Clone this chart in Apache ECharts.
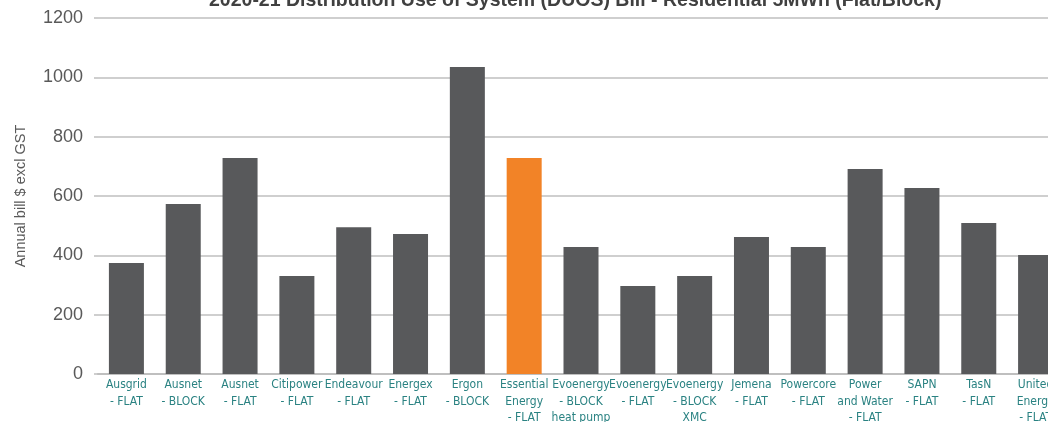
<!DOCTYPE html>
<html>
<head>
<meta charset="utf-8">
<script src="https://cdn.jsdelivr.net/npm/echarts@6/dist/echarts.min.js"></script>
<style>
html,body{margin:0;padding:0;background:#fff;overflow:hidden;width:1048px;height:422px;}
#chart{width:1064px;height:422px;}
</style>
</head>
<body>
<div id="chart"></div>
<script>
var titleText = '2020-21 Distribution Use of System (DUOS) Bill - Residential 5MWh (Flat/Block)';
var yAxisName = 'Annual bill $ excl GST';
var categories = [
  'Ausgrid\n- FLAT', 'Ausnet\n- BLOCK', 'Ausnet\n- FLAT', 'Citipower\n- FLAT',
  'Endeavour\n- FLAT', 'Energex\n- FLAT', 'Ergon\n- BLOCK', 'Essential\nEnergy\n- FLAT',
  'Evoenergy\n- BLOCK\nheat pump', 'Evoenergy\n- FLAT', 'Evoenergy\n- BLOCK\nXMC',
  'Jemena\n- FLAT', 'Powercore\n- FLAT', 'Power\nand Water\n- FLAT', 'SAPN\n- FLAT',
  'TasN\n- FLAT', 'United\nEnergy\n- FLAT'
];
var values = [374, 573, 728, 330, 495, 472, 1035, 728, 428, 297, 330, 462, 428, 691, 627, 509, 401];
var highlighted = ['Essential\nEnergy\n- FLAT'];
var yTicks = { min: 0, max: 1200, interval: 200 };

var chart = echarts.init(document.getElementById('chart'), null, { renderer: 'canvas' });
var option = {
  animation: false,
  backgroundColor: '#ffffff',
  title: {
    text: titleText,
    left: 204,
    top: -14,
    textStyle: { fontFamily: 'Liberation Sans, Arial, sans-serif', fontSize: 19.5, fontWeight: 'bold', color: '#404040' }
  },
  grid: { left: 98, right: 0, top: 18, bottom: 48, containLabel: false, outerBoundsMode: 'none' },
  xAxis: {
    type: 'category',
    data: categories,
    axisLine: { show: true, lineStyle: { color: '#bfbfbf', width: 2 } },
    axisTick: { show: false },
    axisLabel: {
      interval: 0,
      margin: 3,
      color: '#2a8282',
      fontFamily: 'DejaVu Sans Condensed, Liberation Sans Narrow, sans-serif',
      fontSize: 12,
      lineHeight: 16.5
    }
  },
  yAxis: {
    type: 'value',
    min: yTicks.min,
    max: yTicks.max,
    interval: yTicks.interval,
    name: yAxisName,
    nameLocation: 'middle',
    nameGap: 70,
    nameTextStyle: { color: '#595959', fontSize: 14.5, fontFamily: 'Liberation Sans, Arial, sans-serif' },
    axisLine: { show: false },
    axisTick: { show: true, length: 4, lineStyle: { color: '#bfbfbf', width: 1.5 } },
    axisLabel: {
      color: '#595959', fontSize: 18, margin: 15,
      fontFamily: 'Liberation Sans, Arial, sans-serif',
      formatter: function (v) { return String(v); }
    },
    splitLine: { show: true, lineStyle: { color: '#bfbfbf', width: 1.5 } }
  },
  series: [{
    type: 'bar',
    barWidth: '61.6%',
    data: values.map(function (v, i) {
      var hi = highlighted.indexOf(categories[i]) >= 0;
      return { value: v, itemStyle: { color: hi ? '#f28327' : '#58595b' } };
    })
  }]
};
chart.setOption(option);
</script>
</body>
</html>
